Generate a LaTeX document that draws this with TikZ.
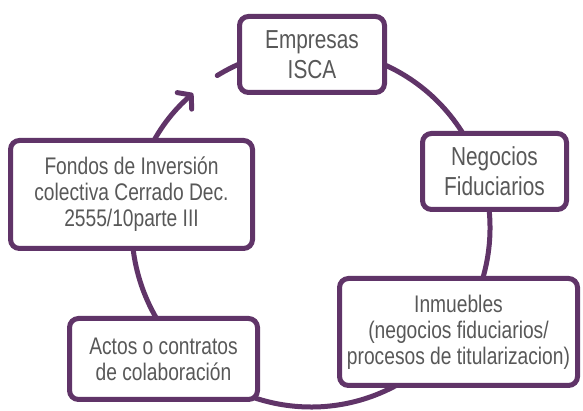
\documentclass[tikz,border=0pt]{standalone}
\usepackage{fontspec}
\setmainfont[FakeStretch=0.8]{Liberation Sans}
\usetikzlibrary{arrows.meta}
\definecolor{ringpurple}{RGB}{96,52,104}
\definecolor{textgray}{RGB}{88,88,88}
\begin{document}
\begin{tikzpicture}[x=1pt,y=1pt,
  ring/.style={draw=ringpurple,line width=5pt,line cap=round},
  entity/.style={draw=ringpurple,line width=5pt,fill=white,rounded corners=9pt,
    align=center,text=textgray,inner sep=0pt,
    font=\fontsize{24}{26}\selectfont},
  bigentity/.style={entity,font=\fontsize{26}{30}\selectfont}]
\useasboundingbox (0,0) rectangle (583,411);
\coordinate (ctr) at (311,183);

\draw[ring,-{Straight Barb[length=9pt,width=22pt,round]}]
  (ctr) ++(121.6:179pt) arc[start angle=121.6,end angle=-228.8,radius=179pt];

\node[bigentity,minimum width=145pt,minimum height=76pt] (empresas) at (312,356.5) {Empresas\\ISCA};
\node[bigentity,minimum width=144pt,minimum height=76pt] (negocios) at (494.5,239.5) {Negocios\\Fiduciarios};
\node[entity,minimum width=242pt,minimum height=108pt] (fondos) at (131.5,216.5) {Fondos de Inversión\\colectiva Cerrado Dec.\\2555/10parte III};
\node[entity,minimum width=238pt,minimum height=107pt] (inmuebles) at (458.5,79) {Inmuebles\\(negocios fiduciarios/\\procesos de titularizacion)};
\node[entity,minimum width=188pt,minimum height=81pt] (actos) at (163.5,52) {Actos o contratos\\de colaboración};
\end{tikzpicture}
\end{document}
